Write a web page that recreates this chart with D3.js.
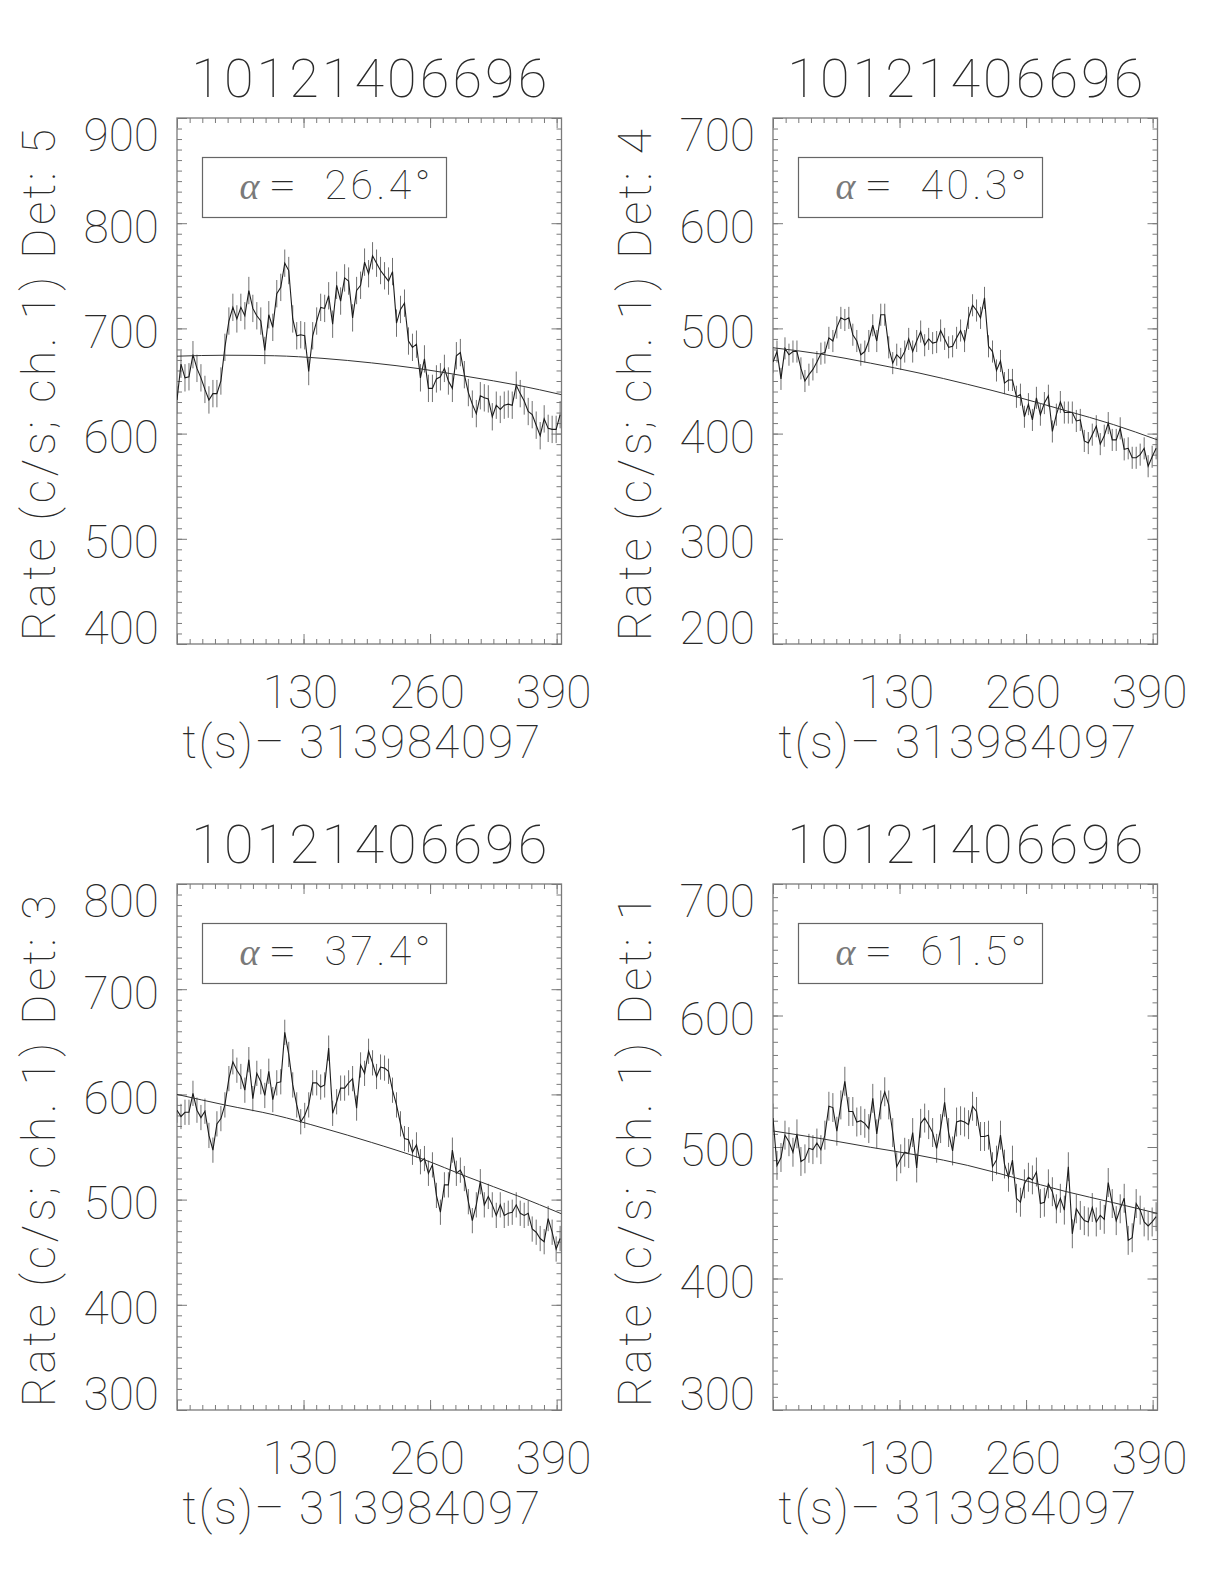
<!DOCTYPE html>
<html>
<head>
<meta charset="utf-8">
<script src="https://cdn.jsdelivr.net/npm/d3@7"></script>
<style>
  body { margin: 0; background: #fff; }
  svg text { font-family: Roboto, 'DejaVu Sans', sans-serif; font-weight: 100; fill: #2a2a2a; }
  svg text.greek { font-family: 'Liberation Serif', serif; font-weight: 400; font-style: italic; fill: #7a7a7a; }
</style>
</head>
<body>
<div id="chart"></div>
<script>
// light curves, 4.1 s bins, one panel per detector
const binWidth = 4.1;
const titleText = '10121406696';
const xLabelText = 't(s)\u2013 313984097';
const detectors = [5, 4, 3, 1];
const alphas = ['26.4', '40.3', '37.4', '61.5'];
const yDomains = [[400, 900], [200, 700], [300, 800], [300, 700]];
const xTickLabels = [130, 260, 390];
const errHalf = [13, 10.5, 12, 11];

const rateDet5 = [632, 666, 653, 654, 675, 662, 653, 642, 632, 638, 638, 650, 682, 707, 720, 709, 720, 712, 736, 719,
  712, 707, 679, 713, 701, 733, 739, 762, 755, 709, 693, 694, 693, 659, 693, 707, 720, 719, 731, 704,
  741, 726, 748, 745, 710, 736, 741, 763, 752, 769, 762, 755, 750, 745, 754, 705, 718, 724, 688, 682,
  685, 653, 671, 643, 643, 652, 654, 662, 650, 643, 674, 677, 656, 639, 628, 619, 636, 634, 633, 616,
  627, 623, 627, 628, 627, 646, 638, 631, 621, 618, 608, 598, 614, 605, 604, 604, 618];
const rateDet4 = [468, 478, 452, 481, 475, 478, 478, 462, 450, 456, 461, 468, 476, 477, 491, 488, 501, 510, 508, 510,
  494, 488, 475, 478, 488, 503, 488, 513, 513, 482, 467, 475, 471, 478, 490, 478, 488, 497, 484, 490,
  486, 487, 498, 490, 482, 483, 491, 498, 488, 510, 522, 517, 510, 529, 483, 478, 460, 469, 448, 451,
  451, 435, 437, 416, 428, 413, 434, 418, 429, 436, 402, 418, 430, 420, 420, 420, 412, 413, 393, 391,
  399, 407, 390, 398, 410, 394, 394, 405, 385, 386, 377, 377, 380, 386, 369, 378, 386];
const rateDet3 = [585, 579, 583, 583, 601, 585, 578, 584, 561, 547, 572, 577, 590, 615, 631, 623, 617, 604, 633, 596,
  620, 612, 599, 622, 595, 611, 612, 659, 638, 609, 590, 574, 580, 590, 611, 611, 607, 609, 644, 582,
  593, 606, 606, 611, 615, 587, 628, 620, 641, 630, 617, 626, 625, 622, 604, 590, 572, 558, 557, 545,
  552, 536, 539, 525, 533, 504, 488, 514, 514, 547, 525, 528, 520, 498, 480, 495, 517, 495, 503, 495,
  485, 495, 485, 487, 488, 495, 487, 485, 487, 472, 469, 463, 460, 482, 469, 453, 463];
const rateDet1 = [522, 486, 492, 509, 504, 496, 510, 489, 491, 499, 498, 503, 498, 509, 531, 530, 512, 532, 550, 527,
  527, 519, 520, 518, 514, 537, 510, 532, 542, 532, 511, 485, 491, 496, 495, 511, 484, 518, 522, 517,
  511, 499, 514, 534, 511, 497, 519, 520, 519, 517, 531, 527, 508, 508, 509, 485, 490, 509, 487, 477,
  490, 461, 458, 472, 477, 475, 481, 457, 458, 472, 466, 453, 461, 452, 485, 434, 453, 448, 444, 443,
  454, 443, 448, 445, 473, 457, 444, 453, 461, 429, 431, 457, 452, 443, 440, 443, 447];

// background fit, read at a few times
const fitT = [0, 50, 100, 150, 200, 250, 300, 350, 395];
const fitDet5 = [673.6, 674.5, 674, 671.5, 667.2, 661.6, 654, 646, 637];
const fitDet4 = [481.6, 475.5, 467, 457.6, 446.8, 435, 422, 408.5, 394];
const fitDet3 = [600, 589.8, 580.5, 568, 554.3, 539.3, 521, 503.5, 486.5];
const fitDet1 = [512.2, 506.3, 499.8, 493.6, 486, 476.3, 466.3, 457.6, 449.5];

const rates = [rateDet5, rateDet4, rateDet3, rateDet1];
const fits = [fitDet5, fitDet4, fitDet3, fitDet1];

const W = 1224, H = 1584;
const colLeft = [177, 773], rowTop = [118, 884];
const pw = 384.5, ph = 526;

const svg = d3.select('#chart').append('svg')
  .attr('width', W).attr('height', H)
  .attr('viewBox', [0, 0, W, H].join(' '));

const axisColor = '#7a7a7a';

detectors.forEach(function(det, i) {
  const left = colLeft[i % 2], top = rowTop[Math.floor(i / 2)];
  const yd = yDomains[i];
  const x = d3.scaleLinear().domain([0, 395]).range([left, left + pw]);
  const y = d3.scaleLinear().domain(yd).range([top + ph, top]);
  const g = svg.append('g');

  const xMajor = [0].concat(xTickLabels);
  const xMinor = d3.range(0, 395, 13);
  const yMajor = d3.range(yd[0], yd[1] + 1, 100);
  const yMinor = d3.range(yd[0], yd[1] + 1, 10);

  function ticks(axis, tr, vals, size) {
    const a = g.append('g').attr('transform', tr)
      .call(axis.tickValues(vals).tickSize(size).tickFormat(''));
    a.select('.domain').remove();
    a.selectAll('line').attr('stroke', axisColor).attr('stroke-width', 1);
  }
  ticks(d3.axisBottom(x), `translate(0,${top + ph})`, xMinor, -5);
  ticks(d3.axisBottom(x), `translate(0,${top + ph})`, xMajor, -10);
  ticks(d3.axisTop(x), `translate(0,${top})`, xMinor, -5);
  ticks(d3.axisTop(x), `translate(0,${top})`, xMajor, -10);
  ticks(d3.axisLeft(y), `translate(${left},0)`, yMinor, -5);
  ticks(d3.axisLeft(y), `translate(${left},0)`, yMajor, -10);
  ticks(d3.axisRight(y), `translate(${left + pw},0)`, yMinor, -5);
  ticks(d3.axisRight(y), `translate(${left + pw},0)`, yMajor, -10);

  g.append('rect')
    .attr('x', left).attr('y', top).attr('width', pw).attr('height', ph)
    .attr('fill', 'none').attr('stroke', axisColor).attr('stroke-width', 1.3);

  // y tick labels, the end ones kept inside the box height
  g.selectAll('.ylab').data(yMajor).enter().append('text')
    .attr('x', left - 18)
    .attr('y', function(v) {
      const c = Math.max(top + 16.5, Math.min(top + ph - 16.5, y(v) + 3));
      return c + 16.4;
    })
    .attr('text-anchor', 'end')
    .style('font-size', '46px')
    .text(function(v) { return v; });

  g.selectAll('.xlab').data(xTickLabels).enter().append('text')
    .attr('x', function(v) { return x(v) - 3; })
    .attr('y', top + ph + 64)
    .attr('text-anchor', 'middle')
    .style('font-size', '46px')
    .text(function(v) { return v; });

  g.append('text')
    .attr('x', left + pw / 2 - 8).attr('y', top + ph + 114)
    .attr('text-anchor', 'middle')
    .attr('textLength', 358).attr('lengthAdjust', 'spacing')
    .style('font-size', '46px')
    .text(xLabelText);

  g.append('text')
    .attr('x', left + pw / 2).attr('y', top - 21)
    .attr('text-anchor', 'middle')
    .attr('textLength', 356).attr('lengthAdjust', 'spacing')
    .style('font-size', '54px')
    .text(titleText);

  const ly = top + ph / 2 + 4, lx = left - 122;
  g.append('text')
    .attr('transform', `translate(${lx},${ly}) rotate(-90)`)
    .attr('text-anchor', 'middle')
    .attr('textLength', 512).attr('lengthAdjust', 'spacing')
    .style('font-size', '46px')
    .text('Rate (c/s; ch. 1) Det: ' + det);

  // legend box
  const bx = left + 25.5, by = top + 39.5;
  g.append('rect')
    .attr('x', bx).attr('y', by).attr('width', 244).attr('height', 60)
    .attr('fill', 'none').attr('stroke', '#666').attr('stroke-width', 1.2);
  g.append('text')
    .attr('class', 'greek')
    .attr('x', bx + 37).attr('y', by + 41)
    .style('font-size', '38px')
    .text('α');
  g.append('text')
    .attr('x', bx + 66).attr('y', by + 41)
    .attr('textLength', 28).attr('lengthAdjust', 'spacingAndGlyphs')
    .style('font-size', '41px')
    .text('=');
  g.append('text')
    .attr('x', bx + 122).attr('y', by + 41)
    .attr('textLength', 106).attr('lengthAdjust', 'spacing')
    .style('font-size', '41px')
    .text(alphas[i] + '°');

  // data
  const clipId = 'clip' + i;
  svg.append('clipPath').attr('id', clipId).append('rect')
    .attr('x', left).attr('y', top).attr('width', pw).attr('height', ph);
  const plot = g.append('g').attr('clip-path', `url(#${clipId})`);

  const pts = rates[i].map(function(v, k) { return { t: k * binWidth, v: v }; });
  const e = errHalf[i];

  plot.selectAll('.err').data(pts).enter().append('line')
    .attr('x1', function(d) { return x(d.t); })
    .attr('x2', function(d) { return x(d.t); })
    .attr('y1', function(d) { return y(d.v - e); })
    .attr('y2', function(d) { return y(d.v + e); })
    .attr('stroke', '#707070').attr('stroke-width', 1);

  plot.append('path')
    .datum(pts)
    .attr('fill', 'none').attr('stroke', '#1c1c1c').attr('stroke-width', 1.1)
    .attr('d', d3.line().x(function(d) { return x(d.t); }).y(function(d) { return y(d.v); }));

  const fitPts = fitT.map(function(t, k) { return { t: t, v: fits[i][k] }; });
  plot.append('path')
    .datum(fitPts)
    .attr('fill', 'none').attr('stroke', '#333').attr('stroke-width', 1)
    .attr('d', d3.line().curve(d3.curveMonotoneX)
      .x(function(d) { return x(d.t); }).y(function(d) { return y(d.v); }));
});
</script>
</body>
</html>
